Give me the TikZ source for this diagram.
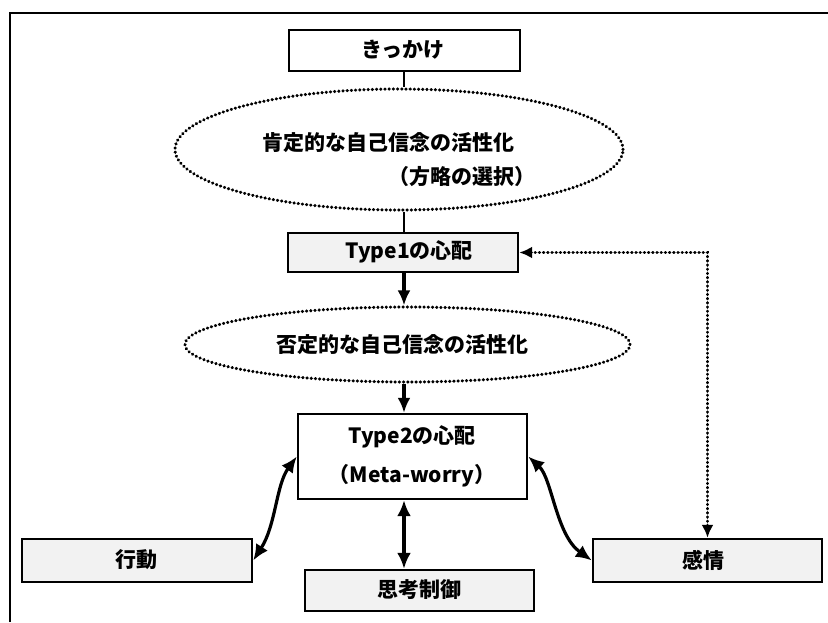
\documentclass[tikz,border=0pt]{standalone}
\usepackage{fontspec}
\setmainfont{Noto Sans CJK JP}
\usetikzlibrary{shapes.geometric,arrows.meta}
\begin{document}
\begin{tikzpicture}[x=1pt,y=-1pt,
  box/.style={draw,line width=2.4pt,rectangle,inner sep=0pt},
  shaded/.style={fill=black!5},
  dotline/.style={line width=3.2pt,line cap=round,dash pattern=on 0.3pt off 3.9pt},
  ell/.style={draw,ellipse,dotline,inner sep=0pt},
  lbl/.style={font=\bfseries\fontsize{21}{23}\selectfont,inner sep=0pt},
  arr/.style={line width=3.2pt,-{Latex[length=15pt,width=13pt]}},
  darr/.style={line width=3.2pt,{Latex[length=16pt,width=14pt]}-{Latex[length=16pt,width=14pt]}},
  dotarr/.style={dotline,{Latex[length=13pt,width=12pt]}-{Latex[length=13pt,width=12pt]}},
]
\useasboundingbox (0,0) rectangle (828,622);
\draw[line width=2.4pt] (10,622) -- (10,13) -- (828,13);
\coordinate (sp) at (404,0);
% nodes
\node[box,minimum width=231pt,minimum height=41pt] (kk) at (404.5,50.5) {};
\node[ell,minimum width=448pt,minimum height=121pt] (e1) at (399,149.5) {};
\node[box,shaded,minimum width=230pt,minimum height=39pt] (t1) at (403,252.5) {};
\node[ell,minimum width=445pt,minimum height=75pt] (e2) at (407.5,344.5) {};
\node[box,minimum width=229pt,minimum height=85pt] (t2) at (412.5,456.5) {};
\node[box,shaded,minimum width=230pt,minimum height=43pt] (kd) at (137,560.5) {};
\node[box,shaded,minimum width=229pt,minimum height=41pt] (sc) at (419.5,590.5) {};
\node[box,shaded,minimum width=229pt,minimum height=43pt] (kj) at (707.5,560.5) {};
% labels
\node[lbl] (kkt) at (403,50) {きっかけ};
\node[lbl] (e1a) at (388,143) {肯定的な自己信念の活性化};
\node[lbl] (e1b) at (462,177) {（方略の選択）};
\node[lbl] (t1t) at (409,252) {Type1の心配};
\node[lbl] (e2t) at (402,345) {否定的な自己信念の活性化};
\node[lbl] (t2a) at (412,437) {Type2の心配};
\node[lbl] (t2b) at (412,476) {（Meta-worry）};
\node[lbl] (kdt) at (136,560) {行動};
\node[lbl] (sct) at (419,590) {思考制御};
\node[lbl] (kjt) at (703,560) {感情};
% connectors
\draw[line width=2.4pt] (kk.south -| sp) -- (e1.north -| sp);
\draw[line width=2.4pt] (e1.south -| sp) -- (t1.north -| sp);
\draw[arr] (t1.south -| sp) -- (e2.north -| sp);
\draw[arr] (e2.south -| sp) -- (t2.north -| sp);
\draw[darr] (t2.south -| sp) -- (sc.north -| sp);
\draw[darr] (t2.west) .. controls (276,485) and (276,525) .. (kd.east);
\draw[darr] (t2.east) .. controls (552,478) and (556,535) .. (kj.west);
\draw[dotarr] (t1.east) -- (t1.east -| kj.north) -- (kj.north);
\end{tikzpicture}
\end{document}
